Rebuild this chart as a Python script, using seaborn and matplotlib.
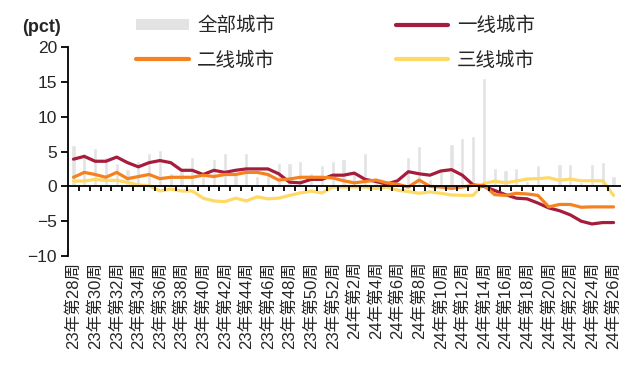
import numpy as np
import seaborn as sns
import matplotlib.pyplot as plt
from matplotlib.patches import Patch
from matplotlib.lines import Line2D

sns.set_style('white')
plt.rcParams['font.family'] = ['Liberation Sans', 'Noto Sans CJK SC']
plt.rcParams['axes.unicode_minus'] = True

# week labels (23W28 .. 24W26)
weeks = ([f'23年第{w}周' for w in range(28, 53)] +
         [f'24年第{w}周' for w in range(1, 27)])

# year-on-year change, pct
all_cities = [5.9, 4.8, 5.5, 4.2, 3.3, 2.5, 3.6, 4.8, 5.2, 1.9,
              2.2, 4.2, 1.5, 3.9, 4.8, 1.8, 4.8, 1.5, 2.0, 3.3,
              3.3, 3.6, 1.9, 3.0, 3.6, 3.9, 2.2, 4.8, 1.2, 0.95,
              0.5, 4.2, 5.8, 1.0, 2.3, 6.1, 7.0, 7.2, 15.5, 2.7,
              2.4, 2.7, 0.8, 3.0, 0.4, 3.2, 3.2, 0.6, 3.2, 3.5,
              1.5]
tier1 = [3.9, 4.3, 3.6, 3.6, 4.2, 3.4, 2.8, 3.4, 3.7, 3.4,
         2.3, 2.3, 1.7, 2.3, 2.0, 2.3, 2.5, 2.5, 2.5, 1.8,
         0.6, 0.5, 1.0, 1.0, 1.6, 1.6, 1.9, 1.0, 0.7, 0.3,
         0.8, 2.1, 1.8, 1.6, 2.2, 2.4, 1.6, 0.2, 0.0, -0.6,
         -1.2, -1.7, -1.8, -2.4, -3.1, -3.5, -4.1, -5.0, -5.4, -5.2,
         -5.2]
tier2 = [1.3, 2.0, 1.7, 1.3, 2.0, 1.1, 1.4, 1.7, 1.1, 1.3,
         1.3, 1.3, 1.6, 1.4, 1.7, 1.7, 2.0, 2.0, 1.7, 0.9,
         1.05, 1.3, 1.3, 1.3, 1.2, 0.8, 0.5, 0.7, 0.9, 0.5,
         0.3, -0.1, 0.9, 0.0, -0.1, -0.3, -0.1, 0.15, 0.15, -1.2,
         -1.3, -1.0, -1.1, -1.3, -2.95, -2.6, -2.6, -3.0, -2.95, -2.95,
         -2.95]
tier3 = [0.76, 0.76, 1.0, 0.86, 0.86, 0.57, 0.2, 0.1, -0.67, -0.4,
         -0.67, -0.67, -1.7, -2.1, -2.2, -1.7, -2.1, -1.5, -1.8, -1.7,
         -1.3, -0.95, -0.67, -0.95, -0.1, -0.1, -0.1, -0.1, -0.3, -0.1,
         -0.55, -0.75, -1.0, -0.8, -1.0, -1.24, -1.29, -1.29, 0.4, 0.76,
         0.5, 0.76, 1.05, 1.1, 1.24, 0.86, 1.05, 0.8, 0.8, 0.8,
         -1.3]

c_all = '#e3e3e3'
c1 = '#a51c3c'
c2 = '#f5821f'
c3 = '#ffd966'

pos = np.arange(len(weeks))

fig = plt.figure(figsize=(6.21, 3.70), dpi=100)
ax = fig.add_axes([68 / 621, 114 / 370, 553 / 621, 209 / 370])

sns.barplot(x=pos, y=all_cities, color=c_all, width=0.38, ax=ax,
            saturation=1, zorder=1)
sns.lineplot(x=pos, y=tier1, color=c1, lw=2.3, ax=ax, zorder=3)
sns.lineplot(x=pos, y=tier2, color=c2, lw=2.3, ax=ax, zorder=3)
sns.lineplot(x=pos, y=tier3, color=c3, lw=2.3, ax=ax, zorder=2)

# zero line with category separators
ax.axhline(0, color='black', lw=1.3, zorder=4)
ax.vlines(pos[:-1] + 0.5, -0.7, 0, color='black', lw=1.3, zorder=4)

ax.set_xlim(-0.51, 50.69)
ax.set_ylim(-10, 20)
ax.set_yticks(np.arange(-10, 21, 5))
ax.tick_params(axis='y', length=5, width=1.3, color='black',
               labelsize=12.5, pad=3, left=True)
ax.set_xticks(pos[::2])
ax.set_xticklabels(weeks[::2], rotation=90, fontsize=12)
ax.tick_params(axis='x', length=0, pad=4)
ax.set_xlabel('')
ax.set_ylabel('')

for s in ['top', 'right', 'bottom']:
    ax.spines[s].set_visible(False)
ax.spines['left'].set_color('black')
ax.spines['left'].set_linewidth(1.3)

fig.text(22 / 621, 1 - 28 / 370, '(pct)', fontsize=13, fontweight='bold',
         va='center', ha='left')

handles = [Patch(facecolor=c_all, edgecolor='none'),
           Line2D([], [], color=c2, lw=3),
           Line2D([], [], color=c1, lw=3),
           Line2D([], [], color=c3, lw=3)]
labels = ['全部城市', '二线城市', '一线城市', '三线城市']
fig.legend(handles, labels, ncol=2, loc='upper left',
           bbox_to_anchor=(136 / 621, 1 - 15 / 370), frameon=False,
           prop={'family': ['Noto Sans CJK SC'], 'size': 14},
           handlelength=2.7, handleheight=0.5, handletextpad=0.45,
           columnspacing=6.2, labelspacing=0.7, borderpad=0,
           borderaxespad=0)

fig.savefig('out.png', dpi=100)
